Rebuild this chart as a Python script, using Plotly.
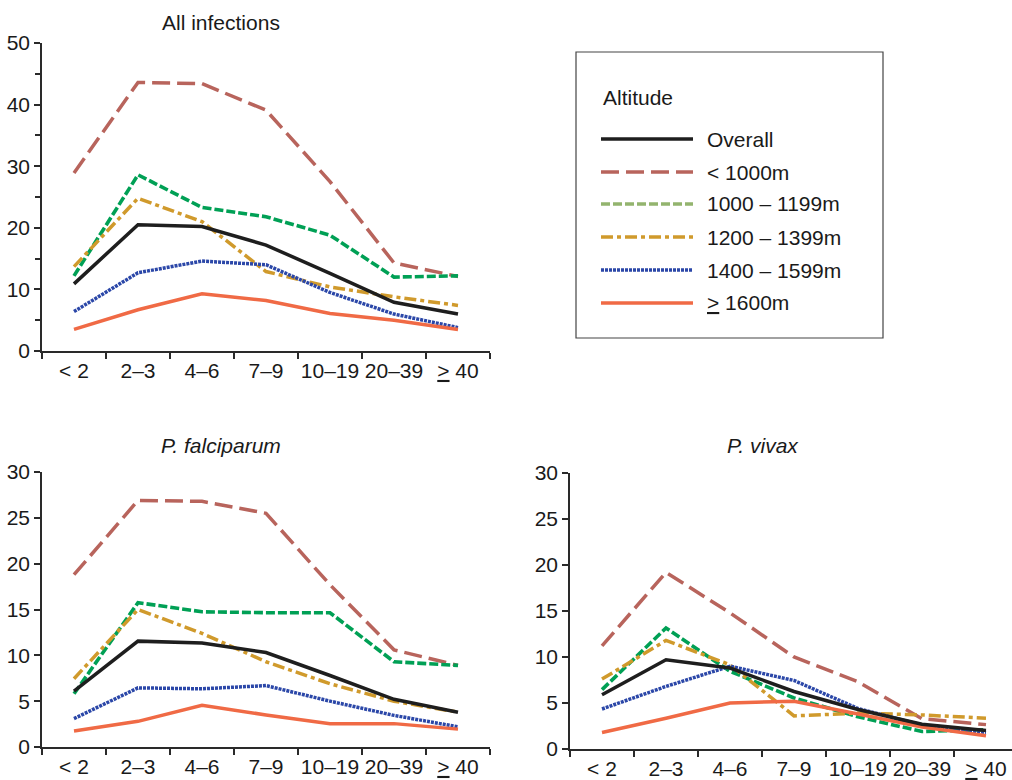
import plotly.graph_objects as go

# Age groups (years)
age_groups = ["< 2", "2–3", "4–6", "7–9", "10–19", "20–39", "<u>></u> 40"]

# Altitude strata
strata = ["Overall", "< 1000m", "1000 – 1199m", "1200 – 1399m", "1400 – 1599m", "<u>></u> 1600m"]

# Prevalence (%) – all infections
all_overall = [10.9, 20.5, 20.2, 17.2, 12.6, 7.9, 6.0]
all_lt1000 = [28.9, 43.6, 43.4, 39.1, 27.5, 14.3, 12.1]
all_1000_1199 = [12.2, 28.6, 23.3, 21.8, 18.8, 12.0, 12.2]
all_1200_1399 = [13.7, 24.8, 21.0, 12.9, 10.4, 8.8, 7.4]
all_1400_1599 = [6.4, 12.7, 14.6, 14.0, 9.5, 6.0, 3.8]
all_ge1600 = [3.5, 6.7, 9.3, 8.2, 6.1, 5.0, 3.5]

# Prevalence (%) – P. falciparum
pf_overall = [6.1, 11.55, 11.35, 10.3, 7.8, 5.2, 3.8]
pf_lt1000 = [18.8, 26.9, 26.8, 25.5, 17.7, 10.6, 8.9]
pf_1000_1199 = [5.8, 15.75, 14.75, 14.65, 14.65, 9.3, 8.9]
pf_1200_1399 = [7.45, 15.0, 12.4, 9.3, 6.9, 5.0, 3.8]
pf_1400_1599 = [3.1, 6.45, 6.35, 6.7, 5.0, 3.45, 2.2]
pf_ge1600 = [1.75, 2.8, 4.55, 3.5, 2.55, 2.55, 1.95]

# Prevalence (%) – P. vivax
pv_overall = [5.9, 9.7, 8.8, 6.25, 4.3, 2.7, 2.0]
pv_lt1000 = [11.2, 19.2, 14.8, 10.0, 7.3, 3.3, 2.65]
pv_1000_1199 = [6.45, 13.15, 8.45, 5.55, 3.5, 1.9, 2.1]
pv_1200_1399 = [7.6, 11.8, 9.15, 3.6, 3.9, 3.7, 3.35]
pv_1400_1599 = [4.35, 6.8, 9.0, 7.45, 4.4, 2.6, 1.8]
pv_ge1600 = [1.8, 3.35, 5.0, 5.2, 3.8, 2.4, 1.45]

W, H = 1012, 780
FONT = "Liberation Sans, Arial, sans-serif"
TEXT_COLOR = "#1a1a1a"
AXIS_COLOR = "#2a2a2a"
FS = 21

# Line styles per stratum: (plot colour, legend colour, dash, width)
styles = [
    ("#1e1e1e", "#1e1e1e", "solid", 3.5),
    ("#b8645c", "#b8645c", "18px,7px", 3.5),
    ("#00a055", "#93b46e", "9px,3px", 3.6),
    ("#d09a2c", "#d09a2c", "12px,4px,4px,4px", 3.5),
    ("#2b47a8", "#2b47a8", "3px,1px", 3.5),
    ("#f06a45", "#f06a45", "solid", 3.5),
]

panels = [
    ("x", "y", [all_overall, all_lt1000, all_1000_1199, all_1200_1399, all_1400_1599, all_ge1600]),
    ("x2", "y2", [pf_overall, pf_lt1000, pf_1000_1199, pf_1200_1399, pf_1400_1599, pf_ge1600]),
    ("x3", "y3", [pv_overall, pv_lt1000, pv_1000_1199, pv_1200_1399, pv_1400_1599, pv_ge1600]),
]

fig = go.Figure()

# Draw order: the overall line sits above the dashed strata
draw_order = [1, 2, 3, 4, 5, 0]
for xa, ya, series in panels:
    for i in draw_order:
        col, _, dash, wdt = styles[i]
        fig.add_trace(go.Scatter(
            x=age_groups, y=series[i], mode="lines", name=strata[i],
            line=dict(color=col, dash=dash, width=wdt),
            xaxis=xa, yaxis=ya, showlegend=False, hoverinfo="skip",
        ))


def px_x(p):
    return p / W


def px_y(p):
    return (H - p) / H


tick_font = dict(family=FONT, size=FS, color=TEXT_COLOR)

xaxis_common = dict(
    type="category", categoryorder="array", categoryarray=age_groups,
    showgrid=False, zeroline=False, showline=True, linecolor=AXIS_COLOR, linewidth=1.5,
    ticks="outside", tickson="boundaries", ticklen=6, tickwidth=1.5, tickcolor=AXIS_COLOR,
    tickfont=tick_font, tickangle=0, automargin=False, fixedrange=True,
)
yaxis_common = dict(
    showgrid=False, zeroline=False, showline=True, linecolor=AXIS_COLOR, linewidth=1.5,
    ticks="outside", ticklen=6, tickwidth=1.5, tickcolor=AXIS_COLOR,
    tickfont=tick_font, automargin=False, fixedrange=True,
)

fig.update_layout(
    width=W, height=H,
    margin=dict(l=0, r=0, t=0, b=0),
    paper_bgcolor="white", plot_bgcolor="white",
    font=dict(family=FONT, size=FS, color=TEXT_COLOR),
    showlegend=False,
    xaxis=dict(xaxis_common, domain=[px_x(42), px_x(490)], range=[-0.5, 6.5], anchor="y"),
    yaxis=dict(yaxis_common, domain=[px_y(351), px_y(43)], range=[0, 50], dtick=10,
               minor=dict(dtick=5, ticks="outside", ticklen=5, tickwidth=1.5, tickcolor=AXIS_COLOR),
               anchor="x"),
    xaxis2=dict(xaxis_common, domain=[px_x(42), px_x(490)], range=[-0.5, 6.5], anchor="y2"),
    yaxis2=dict(yaxis_common, domain=[px_y(747), px_y(472)], range=[0, 30], dtick=5, anchor="x2"),
    xaxis3=dict(xaxis_common, domain=[px_x(570), 1.0], range=[-0.5, -0.5 + 442 / 64], anchor="y3"),
    yaxis3=dict(yaxis_common, domain=[px_y(749), px_y(473)], range=[0, 30], dtick=5, anchor="x3"),
)

# Panel titles
titles = [
    ("All infections", 221, 22),
    ("<i>P. falciparum</i>", 221, 445),
    ("<i>P. vivax</i>", 763, 445),
]
for txt, cx, cy in titles:
    fig.add_annotation(text=txt, x=px_x(cx), y=px_y(cy), xref="paper", yref="paper",
                       xanchor="center", yanchor="middle", showarrow=False,
                       font=dict(family=FONT, size=FS, color=TEXT_COLOR))

# Legend box
fig.add_shape(type="rect", xref="paper", yref="paper",
              x0=px_x(576), x1=px_x(883), y0=px_y(338), y1=px_y(52),
              line=dict(color="#444444", width=1.2), fillcolor="rgba(0,0,0,0)")
fig.add_annotation(text="Altitude", x=px_x(601), y=px_y(97), xref="paper", yref="paper",
                   xanchor="left", yanchor="middle", showarrow=False,
                   font=dict(family=FONT, size=FS, color=TEXT_COLOR))

row_y = [139, 172, 204, 237, 270, 303]
for i, ry in enumerate(row_y):
    _, lcol, dash, wdt = styles[i]
    fig.add_shape(type="line", xref="paper", yref="paper",
                  x0=px_x(601), x1=px_x(693), y0=px_y(ry), y1=px_y(ry),
                  line=dict(color=lcol, dash=dash, width=wdt))
    fig.add_annotation(text=strata[i], x=px_x(705), y=px_y(ry), xref="paper", yref="paper",
                       xanchor="left", yanchor="middle", showarrow=False,
                       font=dict(family=FONT, size=FS, color=TEXT_COLOR))

fig.write_html("out.html")
